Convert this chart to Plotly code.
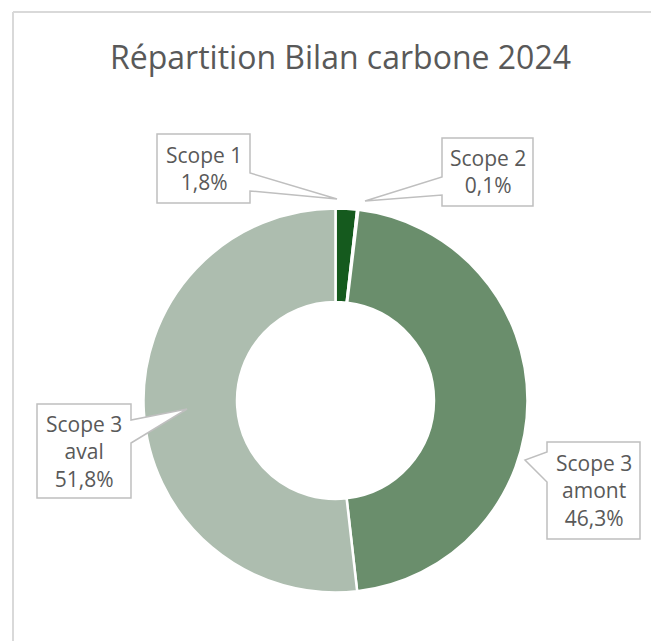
import plotly.graph_objects as go

# ---- data ----
categories = ["Scope 1", "Scope 2", "Scope 3 amont", "Scope 3 aval"]
shares = [1.8, 0.1, 46.3, 51.8]
label_texts = ["Scope 1<br>1,8%", "Scope 2<br>0,1%", "Scope 3<br>amont<br>46,3%", "Scope 3<br>aval<br>51,8%"]
colors = ["#155a1e", "#3f7a48", "#6a8e6c", "#adbdaf"]
title_text = "Répartition Bilan carbone 2024"

OFF = 8  # default page body margin
W, H = 659 - OFF, 641 - OFF
GREY_TXT = "#595959"
BOX_LINE = "#bfbfbf"


def fx(x):
    return (x - OFF) / W


def fy(y):
    return 1 - (y - OFF) / H


def px(x, y):
    return f"{fx(x):.5f},{fy(y):.5f}"


def callout(l, t, r, b, side, y1, y2, tip):
    tx, ty = tip
    if side == "right":
        pts = [(l, t), (r, t), (r, y1), (tx, ty), (r, y2), (r, b), (l, b)]
    else:
        pts = [(l, t), (r, t), (r, b), (l, b), (l, y2), (tx, ty), (l, y1)]
    return "M " + " L ".join(px(x, y) for x, y in pts) + " Z"


# pie geometry (page pixels)
cx, cy, R = 335.5, 400.5, 192

fig = go.Figure(
    go.Pie(
        labels=categories,
        values=shares,
        sort=False,
        direction="clockwise",
        rotation=0,
        hole=0.513,
        marker=dict(colors=colors, line=dict(color="white", width=2.5)),
        textinfo="none",
        hoverinfo="label+percent",
        showlegend=False,
        domain=dict(
            x=[fx(cx - R), fx(cx + R)],
            y=[fy(cy + R), fy(cy - R)],
        ),
    )
)

# callout boxes: (left, top, right, bottom, side, base y1, base y2, tip)
boxes = [
    (157, 134, 250, 203, "right", 173, 191, (337, 199)),
    (442, 138, 533, 206, "left", 177, 195, (365, 201)),
    (547, 442, 640, 539, "left", 452, 482, (525, 460)),
    (37, 404, 131, 498, "right", 420, 443, (187, 409)),
]

shapes = [
    # chart frame (cropped on right/bottom)
    dict(type="line", xref="paper", yref="paper", x0=fx(13), x1=1.05, y0=fy(12), y1=fy(12),
         line=dict(color="#d9d9d9", width=2)),
    dict(type="line", xref="paper", yref="paper", x0=fx(13), x1=fx(13), y0=fy(12), y1=-0.05,
         line=dict(color="#d9d9d9", width=2)),
]
annotations = []
for (l, t, r, b, side, y1, y2, tip), txt in zip(boxes, label_texts):
    shapes.append(dict(type="path", xref="paper", yref="paper", layer="above",
                       path=callout(l, t, r, b, side, y1, y2, tip),
                       fillcolor="white", line=dict(color=BOX_LINE, width=1.5)))
    annotations.append(dict(xref="paper", yref="paper", x=fx((l + r) / 2), y=fy((t + b) / 2),
                            text=txt, showarrow=False, xanchor="center", yanchor="middle",
                            font=dict(family="Open Sans", size=21, color=GREY_TXT)))

annotations.append(dict(xref="paper", yref="paper", x=fx(340), y=fy(56), text=title_text,
                        showarrow=False, xanchor="center", yanchor="middle",
                        font=dict(family="Open Sans", size=32, color=GREY_TXT)))

fig.update_layout(
    width=W,
    height=H,
    margin=dict(l=0, r=0, t=0, b=0),
    paper_bgcolor="white",
    plot_bgcolor="white",
    shapes=shapes,
    annotations=annotations,
)

fig.write_html("out.html")
